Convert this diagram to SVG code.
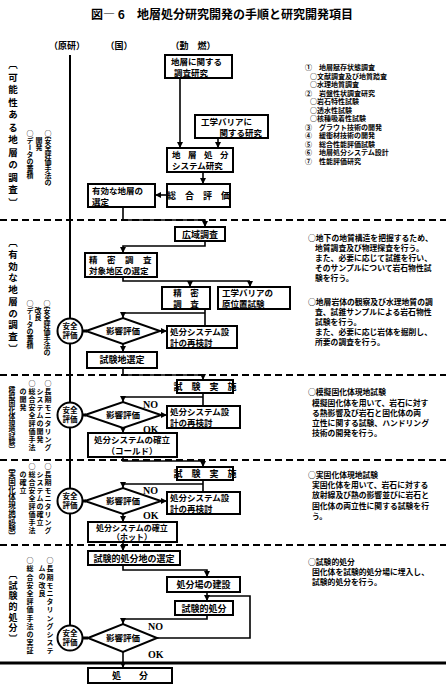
<svg xmlns="http://www.w3.org/2000/svg" width="446" height="692" viewBox="0 0 446 692">
<style>
.box{fill:#fff;stroke:#000;stroke-width:2}
.ln{fill:none;stroke:#000;stroke-width:1.6}
.dash{fill:none;stroke:#000;stroke-width:2;stroke-dasharray:7 4}
.t{font-family:"Noto Sans CJK JP","Noto Sans CJK SC",sans-serif;font-weight:bold;font-size:9px;fill:#000}
.b2{font-size:8.5px}
.s{font-size:7.8px}
.s1{font-size:7px}
.n{font-family:"Liberation Serif",serif;font-weight:bold;font-size:10px}
.v{writing-mode:vertical-rl;font-size:7px}
.lab{writing-mode:vertical-rl;font-size:9.5px}
.c{text-anchor:middle}
.circ{fill:#fff;stroke:#000;stroke-width:2}
</style>
<defs>
<marker id="ah" viewBox="0 0 10 10" refX="10" refY="5" markerUnits="userSpaceOnUse" markerWidth="6" markerHeight="6" orient="auto"><path d="M0,0 L10,5 L0,10 z" fill="#000"/></marker>
</defs>
<rect width="446" height="692" fill="#fff"/>

<g id="title">
<text class="t c" x="222" y="19" style="font-size:12px">図― 6　地層処分研究開発の手順と研究開発項目</text>
<text class="t c" x="67" y="49">（原研）</text>
<text class="t c" x="119" y="49">（国）</text>
<text class="t c" x="193" y="49">（動　燃）</text>
</g>

<g id="separators">
<line class="dash" x1="0" y1="220" x2="446" y2="220"/>
<line class="dash" x1="0" y1="375" x2="446" y2="375"/>
<line class="dash" x1="0" y1="460" x2="446" y2="460"/>
<line class="dash" x1="0" y1="545" x2="446" y2="545"/>
<line x1="0" y1="663" x2="446" y2="663" stroke="#000" stroke-width="3"/>
</g>

<g id="connectors">
<line class="ln" x1="70" y1="55" x2="70" y2="638" style="stroke-width:2"/>
<line class="ln" x1="180" y1="78" x2="180" y2="148" marker-end="url(#ah)"/>
<line class="ln" x1="218" y1="138" x2="218" y2="148" marker-end="url(#ah)"/>
<line class="ln" x1="203" y1="172" x2="203" y2="184" marker-end="url(#ah)"/>
<line class="ln" x1="167" y1="195" x2="155" y2="195" marker-end="url(#ah)"/>
<polyline class="ln" points="123,207 123,220 205,220 205,227" marker-end="url(#ah)"/>
<polyline class="ln" points="205,241 205,246 123,246 123,253" marker-end="url(#ah)"/>
<polyline class="ln" points="123,277 123,281 250,281"/>
<line class="ln" x1="190" y1="281" x2="190" y2="287" marker-end="url(#ah)"/>
<line class="ln" x1="250" y1="281" x2="250" y2="287" marker-end="url(#ah)"/>
<line class="ln" x1="205" y1="309" x2="205" y2="326"/>
<polyline class="ln" points="205,313 123,313 123,318" marker-end="url(#ah)"/>
<line x1="82" y1="331" x2="87" y2="331" stroke="#000" stroke-width="3"/>
<line class="ln" x1="160" y1="331" x2="167" y2="331" marker-end="url(#ah)"/>
<line class="ln" x1="123" y1="344" x2="123" y2="352" marker-end="url(#ah)"/>
<polyline class="ln" points="123,368 123,375 203,375 203,380" marker-end="url(#ah)"/>
<line class="ln" x1="203" y1="393" x2="203" y2="406"/>
<polyline class="ln" points="203,397 123,397 123,402" marker-end="url(#ah)"/>
<line x1="82" y1="415" x2="86" y2="415" stroke="#000" stroke-width="3"/>
<line class="ln" x1="161" y1="415" x2="167" y2="415" marker-end="url(#ah)"/>
<line class="ln" x1="123" y1="428" x2="123" y2="433" marker-end="url(#ah)"/>
<polyline class="ln" points="123,457 123,461 203,461 203,467" marker-end="url(#ah)"/>
<line class="ln" x1="203" y1="480" x2="203" y2="492"/>
<polyline class="ln" points="203,484 123,484 123,488" marker-end="url(#ah)"/>
<line x1="82" y1="501" x2="86" y2="501" stroke="#000" stroke-width="3"/>
<line class="ln" x1="161" y1="501" x2="167" y2="501" marker-end="url(#ah)"/>
<line class="ln" x1="123" y1="514" x2="123" y2="522" marker-end="url(#ah)"/>
<line class="ln" x1="123" y1="542" x2="123" y2="551" marker-end="url(#ah)"/>
<polyline class="ln" points="123,565 123,570 207,570 207,577" marker-end="url(#ah)"/>
<line class="ln" x1="207" y1="592" x2="207" y2="601" marker-end="url(#ah)"/>
<polyline class="ln" points="157,638 250,638 250,596 207,596"/>
<polyline class="ln" points="207,615 207,619 123,619 123,624" marker-end="url(#ah)"/>
<line x1="82" y1="638" x2="88" y2="638" stroke="#000" stroke-width="3"/>
<line class="ln" x1="123" y1="652" x2="123" y2="668" marker-end="url(#ah)"/>
</g>

<g id="n-chiso-chosa"><rect class="box" x="165" y="55" width="67" height="23"/><text class="t b2" x="171" y="65">地層に関する</text><text class="t b2" x="174" y="75.5">調査研究</text></g>
<g id="n-kogaku-kenkyu"><rect class="box" x="195" y="115" width="73" height="23"/><text class="t b2" x="201" y="125">工学バリアに</text><text class="t b2" x="262" y="135.5" text-anchor="end">関する研究</text></g>
<g id="n-system"><rect class="box" x="167" y="148" width="66" height="24"/><text class="t b2" x="172" y="158" letter-spacing="7.5">地層処分</text><text class="t b2" x="172" y="168.5">システム研究</text></g>
<g id="n-sogo"><rect class="box" x="167" y="184" width="63" height="23"/><text class="t c" x="198.5" y="199">総　合　評　価</text></g>
<g id="n-yuko"><rect class="box" x="88" y="184" width="67" height="23"/><text class="t b2" x="92" y="194">有効な地層の</text><text class="t b2" x="92" y="204.5">選定</text></g>

<g id="n-koiki"><rect class="box" x="175" y="227" width="50" height="14"/><text class="t c" x="200" y="238">広域調査</text></g>
<g id="n-seimitsu-sentei"><rect class="box" x="85" y="253" width="72" height="24"/><text class="t b2" x="89" y="263" letter-spacing="9.5">精密調査</text><text class="t b2" x="89" y="273.5">対象地区の選定</text></g>
<g id="n-seimitsu"><rect class="box" x="162" y="287" width="48" height="22"/><text class="t b2 c" x="186" y="296">精　密</text><text class="t b2 c" x="186" y="306.5">調　査</text></g>
<g id="n-genichi"><rect class="box" x="218" y="287" width="72" height="22"/><text class="t b2" x="222" y="296">工学バリアの</text><text class="t b2" x="222" y="306.5">原位置試験</text></g>
<g id="n-anzen1"><circle class="circ" cx="70" cy="331" r="12.5"/><text class="t c" x="70" y="329" style="font-size:7.5px">安全</text><text class="t c" x="70" y="338" style="font-size:7.5px">評価</text></g>
<g id="n-eikyo1"><polygon class="box" points="86,331 123,318 160,331 123,344"/><text class="t c" x="123" y="334" style="font-size:8.5px">影響評価</text></g>
<g id="n-saikento1"><rect class="box" x="167" y="326" width="70" height="22"/><text class="t b2" x="170" y="335">処分システム設</text><text class="t b2" x="170" y="345.5">計の再検討</text></g>
<g id="n-shikenchi"><rect class="box" x="87" y="352" width="70" height="16"/><text class="t c" x="122" y="363">試験地選定</text></g>

<g id="n-jisshi1"><rect class="box" x="177" y="380" width="56" height="13"/><text class="t c" x="205" y="390">試　験　実　施</text></g>
<g id="n-anzen2"><circle class="circ" cx="70" cy="415" r="12.5"/><text class="t c" x="70" y="413" style="font-size:7.5px">安全</text><text class="t c" x="70" y="422" style="font-size:7.5px">評価</text></g>
<g id="n-eikyo2"><polygon class="box" points="85,415 123,402 161,415 123,428"/><text class="t c" x="123" y="418" style="font-size:8.5px">影響評価</text><text class="n" x="143" y="408">NO</text><text class="n" x="143" y="433">OK</text></g>
<g id="n-saikento2"><rect class="box" x="167" y="406" width="73" height="22"/><text class="t b2" x="170" y="415">処分システム設</text><text class="t b2" x="170" y="425.5">計の再検討</text></g>
<g id="n-cold"><rect class="box" x="88" y="433" width="89" height="24"/><text class="t c" x="132" y="443" style="font-size:8.5px">処分システムの確立</text><text class="t c" x="132" y="454" style="font-size:8.5px">（コールド）</text></g>

<g id="n-jisshi2"><rect class="box" x="177" y="467" width="56" height="13"/><text class="t c" x="205" y="477">試　験　実　施</text></g>
<g id="n-anzen3"><circle class="circ" cx="70" cy="501" r="12.5"/><text class="t c" x="70" y="499" style="font-size:7.5px">安全</text><text class="t c" x="70" y="508" style="font-size:7.5px">評価</text></g>
<g id="n-eikyo3"><polygon class="box" points="85,501 123,488 161,501 123,514"/><text class="t c" x="123" y="504" style="font-size:8.5px">影響評価</text><text class="n" x="143" y="494">NO</text><text class="n" x="143" y="519">OK</text></g>
<g id="n-saikento3"><rect class="box" x="167" y="492" width="73" height="22"/><text class="t b2" x="170" y="501">処分システム設</text><text class="t b2" x="170" y="511.5">計の再検討</text></g>
<g id="n-hot"><rect class="box" x="88" y="522" width="89" height="20"/><text class="t c" x="132" y="530.5" style="font-size:8px">処分システムの確立</text><text class="t c" x="132" y="540" style="font-size:8px">（ホット）</text></g>

<g id="n-shobunchi"><rect class="box" x="88" y="551" width="92" height="14"/><text class="t c" x="134" y="562">試験的処分地の選定</text></g>
<g id="n-kensetsu"><rect class="box" x="167" y="577" width="73" height="15"/><text class="t c" x="203.5" y="588">処分場の建設</text></g>
<g id="n-shikenteki"><rect class="box" x="175" y="601" width="58" height="14"/><text class="t c" x="204" y="612">試験的処分</text></g>
<g id="n-anzen4"><circle class="circ" cx="70" cy="638" r="12.5"/><text class="t c" x="70" y="636" style="font-size:7.5px">安全</text><text class="t c" x="70" y="645" style="font-size:7.5px">評価</text></g>
<g id="n-eikyo4"><polygon class="box" points="88,638 123,624 157,638 123,652"/><text class="t c" x="123" y="641" style="font-size:8.5px">影響評価</text><text class="n" x="148" y="630">NO</text><text class="n" x="148" y="658">OK</text></g>
<g id="n-shobun"><rect class="box" x="88" y="668" width="84" height="15"/><text class="t c" x="130" y="679">処　　分</text></g>

<g id="left-labels">
<text class="t lab" x="13" y="60" letter-spacing="3">〔可能性ある地層の調査〕</text>
<text class="t v" x="48" y="130">○安全評価手法の</text>
<text class="t v" x="39" y="137">開発</text>
<text class="t v" x="30" y="130">○データの蓄積</text>
<text class="t lab" x="13" y="238" letter-spacing="2.2">〔有効な地層の調査〕</text>
<text class="t v" x="47" y="300">○安全評価手法の</text>
<text class="t v" x="38" y="307">改良</text>
<text class="t v" x="30" y="300">○データの蓄積</text>
<text class="t lab" x="12" y="381" style="font-size:6.8px" letter-spacing="-0.3">〔模擬固化体現地試験〕</text>
<text class="t v" x="48" y="380" letter-spacing="1">○長期モニタリング</text>
<text class="t v" x="40" y="388" letter-spacing="1">システムの開発</text>
<text class="t v" x="32" y="380" letter-spacing="1">○総合安全評価手法</text>
<text class="t v" x="23" y="388" letter-spacing="1">の開発</text>
<text class="t lab" x="12" y="463" style="font-size:7.5px" letter-spacing="0.2">〔実固化体現地試験〕</text>
<text class="t v" x="48" y="463" letter-spacing="1">○長期モニタリング</text>
<text class="t v" x="40" y="471" letter-spacing="1">システムの確立</text>
<text class="t v" x="32" y="463" letter-spacing="1">○総合安全評価手法</text>
<text class="t v" x="23" y="471" letter-spacing="1">の確立</text>
<text class="t lab" x="13" y="570" style="font-size:9px" letter-spacing="1.7">〔試験的処分〕</text>
<text class="t v" x="50" y="557" letter-spacing="1.2">○長期モニタリングシステ</text>
<text class="t v" x="42" y="565" letter-spacing="1.2">ムの改良</text>
<text class="t v" x="30" y="557" letter-spacing="1.2">○総合安全評価手法の実証</text>
</g>

<g id="right-notes">
<text class="t s1" x="305" y="70">①　地層賦存状態調査</text>
<text class="t s1" x="310" y="78.5">○文献調査及び地質踏査</text>
<text class="t s1" x="310" y="87">○水理地質調査</text>
<text class="t s1" x="305" y="95.5">②　岩盤性状調査研究</text>
<text class="t s1" x="310" y="104">○岩石特性試験</text>
<text class="t s1" x="310" y="112.5">○透水性試験</text>
<text class="t s1" x="310" y="121">○核種吸着性試験</text>
<text class="t s1" x="305" y="129.5">③　グラウト技術の開発</text>
<text class="t s1" x="305" y="138">④　緩衝材技術の開発</text>
<text class="t s1" x="305" y="146.5">⑤　総合性能評価試験</text>
<text class="t s1" x="305" y="155">⑥　地層処分システム設計</text>
<text class="t s1" x="305" y="163.5">⑦　性能評価研究</text>

<text class="t s" x="308" y="241">○地下の地質構造を把握するため、</text>
<text class="t s" x="315" y="251">地質調査及び物理探査を行う。</text>
<text class="t s" x="315" y="261">また、必要に応じて試錐を行い、</text>
<text class="t s" x="315" y="271">そのサンプルについて岩石物性試</text>
<text class="t s" x="315" y="281">験を行う。</text>
<text class="t s" x="308" y="305">○地層岩体の観察及び水理地質の調</text>
<text class="t s" x="315" y="315">査、試錐サンプルによる岩石物性</text>
<text class="t s" x="315" y="325">試験を行う。</text>
<text class="t s" x="315" y="335">また、必要に応じ岩体を掘削し、</text>
<text class="t s" x="315" y="345">所要の調査を行う。</text>

<text class="t s" x="308" y="395">○模擬固化体現地試験</text>
<text class="t s" x="312" y="406">模擬固化体を用いて、岩石に対す</text>
<text class="t s" x="312" y="416">る熱影響及び岩石と固化体の両</text>
<text class="t s" x="312" y="426">立性に関する試験、ハンドリング</text>
<text class="t s" x="312" y="436">技術の開発を行う。</text>

<text class="t s" x="308" y="478">○実固化体現地試験</text>
<text class="t s" x="312" y="488">実固化体を用いて、岩石に対する</text>
<text class="t s" x="312" y="498">放射線及び熱の影響並びに岩石と</text>
<text class="t s" x="312" y="509">固化体の両立性に関する試験を行</text>
<text class="t s" x="312" y="519">う。</text>

<text class="t s" x="308" y="565">○試験的処分</text>
<text class="t s" x="312" y="575">固化体を試験的処分場に埋入し、</text>
<text class="t s" x="312" y="585">試験的処分を行う。</text>
</g>
</svg>
